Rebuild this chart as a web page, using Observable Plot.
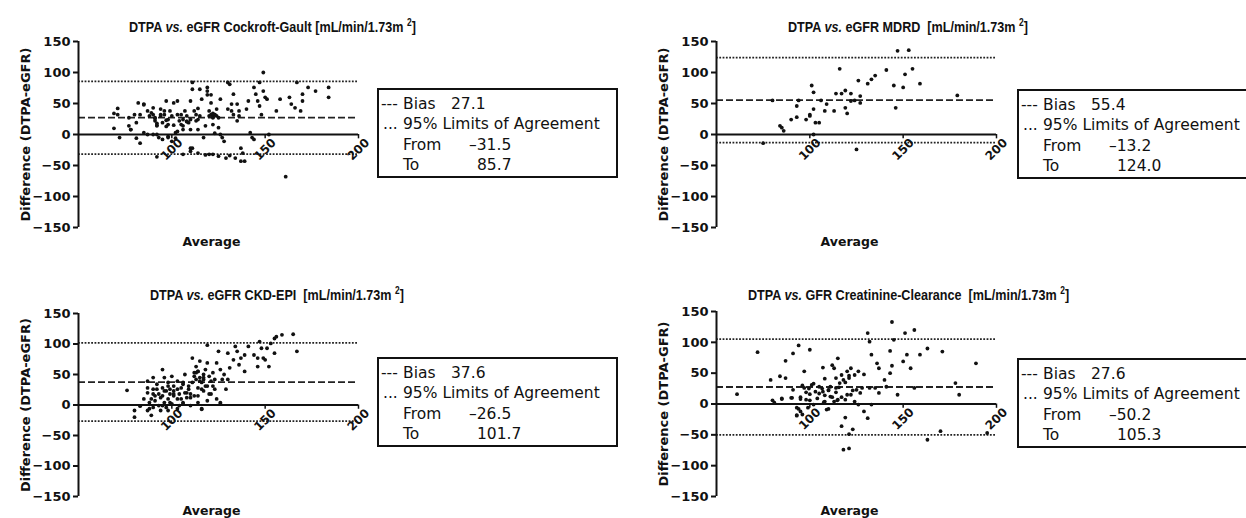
<!DOCTYPE html>
<html><head><meta charset="utf-8">
<script src="https://cdn.jsdelivr.net/npm/d3@7"></script>
<script src="https://cdn.jsdelivr.net/npm/@observablehq/plot@0.6"></script>
<style>
html,body{margin:0;padding:0;background:#fff;overflow:hidden;width:1246px;height:518px}
#wrap{position:relative;width:1246px;height:518px;font-family:"Liberation Sans",Arial,sans-serif;color:#111;overflow:hidden}
.panel{position:absolute}
.title{position:absolute;font-weight:bold;font-size:15px;white-space:pre;line-height:18px;transform:scaleX(0.84);transform-origin:0 50%}
.title sup{font-size:10px;line-height:0}
.legend{position:absolute;border:2px solid #111;width:241px;height:90px;font-family:"DejaVu Sans",sans-serif;font-size:15.5px;box-sizing:border-box}
.legend .row{position:absolute;white-space:pre;line-height:20px}
</style></head>
<body><div id="wrap"></div>
<script>
// ---------- data ----------
const titleMethods = ["eGFR Cockroft-Gault", "eGFR MDRD", "eGFR CKD-EPI", "GFR Creatinine-Clearance"];
const yLabels = ["Difference (DTPA-eGFR)", "Difference (DTPA-eGFR)", "Difference (DTPA-eGFR)", "Difference (DTPA-GFR)"];
const bias = [27.1, 55.4, 37.6, 27.6];
const loaFrom = [-31.5, -13.2, -26.5, -50.2];
const loaTo = [85.7, 124.0, 101.7, 105.3];
const yTicks = [-150, -100, -50, 0, 50, 100, 150];
const xTicks = [100, 150, 200];

// Cockroft-Gault
const cgAvg = [69,69,72,77,77,78,81,81,82,83,85,85,87,88,89,90,90,91,91,92,92,92,93,94,94,95,96,96,97,97,98,98,98,99,100,101,101,102,102,104,105,106,106,107,108,108,109,110,110,110,111,111,112,113,114,114,115,115,116,117,118,119,119,120,120,121,121,122,122,122,123,124,124,125,125,126,126,127,128,129,130,130,131,132,132,133,133,134,135,135,136,136,137,137,138,139,140,141,142,143,144,144,145,146,147,147,148,149,149,150,151,152,156,158,161,163,164,166,167,169,170,170,173,177,184,184,103,106,114,118,125,131,
  92,92,91,94,97,98,103,105,106,108,110,113,114,119,121,122,123,122,123,87,90,95,100,103,110,111,120,83,85,71,71,78,80];
const cgDiff = [34,10,-5,27,14,8,19,-6,51,32,49,3,38,30,35,43,32,22,27,15,14,0,-5,41,30,19,32,38,54,23,-3,-5,16,38,30,51,15,3,-6,22,32,14,8,38,30,21,19,-22,-27,54,73,84,38,22,8,24,30,73,57,-5,14,76,70,38,30,51,32,16,-32,27,32,30,41,27,11,0,57,-5,-11,-38,41,84,81,49,38,32,65,-38,22,49,38,30,-22,-43,-30,-43,41,54,3,-5,-8,76,65,54,84,46,32,70,100,60,57,0,38,57,-68,60,49,43,84,38,65,54,76,70,76,60,54,-32,-30,-33,-35,-34,-36,
  18,26,32,13,24,32,16,24,21,24,32,42,64,64,29,32,34,2,0,0,-8,-11,5,8,-22,-32,-14,48,42,32,8,32,10];

// MDRD
const mdAvg = [75,80,84,85,86,90,93,93,94,98,100,100,101,102,102,103,102,105,106,108,109,113,114,116,117,119,119,120,122,122,124,125,126,127,127,131,133,135,141,145,146,147,150,151,153,155,159,179];
const mdDiff = [-14,55,14,11,6,24,28,46,55,24,30,32,79,68,41,19,0,19,55,38,49,38,66,106,66,43,71,34,66,54,55,-24,87,62,51,82,89,95,104,79,43,135,76,97,136,106,82,63];

// CKD-EPI
const ckAvg = [76,80,80,83,85,87,87,87,88,88,89,90,90,91,91,92,93,93,94,95,95,95,96,96,97,97,98,98,99,99,100,100,101,101,101,103,103,104,104,105,106,106,107,107,108,109,109,110,111,111,112,112,113,113,114,114,114,115,115,116,116,117,117,117,118,118,119,119,120,120,121,122,122,123,124,125,126,126,127,128,129,130,130,131,133,134,135,136,137,139,139,141,144,146,146,147,148,149,150,151,152,153,155,155,156,159,165,167,
  89,90,92,94,96,98,99,101,103,105,106,108,110,112,113,114,115,116,117,119,121,123,124,87,90,95,98,103,106,110,114,116,119,126];
const ckDiff = [24,-9,-20,-2,10,28,39,20,4,-6,-17,45,26,15,7,34,18,-1,-9,58,15,28,4,45,23,-4,37,10,18,26,2,47,15,31,23,10,39,18,-1,28,37,4,20,50,12,31,26,18,37,77,53,15,42,63,28,55,15,45,72,37,-6,50,23,42,58,31,69,98,47,18,39,53,31,26,69,88,2,58,42,50,26,85,42,61,74,96,88,66,77,82,55,96,82,77,63,104,93,77,74,93,63,101,109,85,112,115,116,88,
  10,18,26,12,23,31,4,18,26,10,34,20,12,47,53,55,39,26,45,31,18,42,10,-9,-4,-1,-9,-6,2,-1,4,-7,7,4];

// Creatinine-Clearance
const crAvg = [61,72,79,81,84,85,87,87,90,91,91,93,93,94,95,95,96,97,97,98,99,100,100,101,102,103,104,105,107,107,108,108,109,110,111,111,112,113,113,114,114,115,115,116,117,117,118,118,119,119,120,120,121,121,121,122,122,123,124,124,125,126,126,127,128,129,129,131,131,132,132,133,133,135,136,137,137,140,141,143,143,144,144,145,147,150,151,152,154,156,156,159,163,163,170,171,178,180,189,195,
  96,98,99.5,102,105,106.6,108,110,112,114,115.6,117,119,121,123,95,100,107.5,114.7,110,94,93,80,85,90.5];
const crDiff = [16,84,39,2,45,9,42,70,10,82,23,-6,-18,95,11,-12,-17,26,53,7,-6,88,16,31,-1,20,9,28,59,20,41,4,-9,23,12,28,63,58,4,26,42,74,7,34,47,-36,39,-74,-22,7,15,53,-49,42,-72,58,15,-41,4,47,23,53,-1,18,26,48,-12,-23,115,26,101,80,-1,26,66,58,18,39,28,86,50,62,133,104,15,69,115,80,58,120,26,80,90,-58,-44,85,34,15,66,-47,
  30,19,25,33,17,25,14,22,11,19,27,11,35,46,22,8,6,3,6,-8,-8,-19,6,8,10];

const avgs = [cgAvg, mdAvg, ckAvg, crAvg];
const diffs = [cgDiff, mdDiff, ckDiff, crDiff];

// ---------- layout ----------
const AXFONT = "'DejaVu Sans', sans-serif";
const wrap = document.getElementById("wrap");
const panelPos = [
  {left: 0, top: 0, h: 255, mt: 41, mb: 28},
  {left: 638, top: 0, h: 255, mt: 41, mb: 28},
  {left: 0, top: 270, h: 248, mt: 43, mb: 22},
  {left: 638, top: 270, h: 248, mt: 41, mb: 22}
];
const titlePos = [{left: 129, top: 18}, {left: 788, top: 18}, {left: 150, top: 286}, {left: 748, top: 286}];
const legendPos = [{left: 377, top: 88}, {left: 1017, top: 89}, {left: 377, top: 357}, {left: 1017, top: 358}];

function fmt(v) { return (v < 0 ? "\u2013" + Math.abs(v).toFixed(1) : v.toFixed(1)); }

for (let i = 0; i < 4; i++) {
  const p = panelPos[i];
  const pts = avgs[i].map((a, j) => ({a, d: diffs[i][j]}));
  const chart = Plot.plot({
    width: 380, height: p.h,
    marginLeft: 78, marginRight: 22, marginTop: p.mt, marginBottom: p.mb,
    style: {fontFamily: AXFONT, fontSize: "13px", fontWeight: "bold", color: "#111", background: "transparent", overflow: "visible"},
    x: {domain: [50, 200], axis: null},
    y: {domain: [-150, 150]},
    marks: [
      Plot.ruleY([loaFrom[i], loaTo[i]], {stroke: "#222", strokeWidth: 1.8, strokeDasharray: "1.8,1.5"}),
      Plot.ruleY([bias[i]], {stroke: "#222", strokeWidth: 1.8, strokeDasharray: "7,3"}),
      Plot.ruleY([0], {stroke: "#111", strokeWidth: 2}),
      Plot.ruleX([50], {y1: -150, y2: 150, stroke: "#111", strokeWidth: 2}),
      Plot.axisY(yTicks, {tickSize: 5, tickPadding: 3, strokeWidth: 2, label: null, fontSize: 13, fontWeight: "bold"}),
      Plot.ruleX(xTicks, {y1: 0, y2: -7, stroke: "#111", strokeWidth: 1.5}),
      Plot.text(xTicks, {x: d => d, y: 0, text: d => String(d), rotate: -45, dy: 15, textAnchor: "middle", fontSize: 12, fontWeight: "bold"}),
      Plot.dot(pts, {x: "a", y: "d", r: 1.9, fill: "#111", stroke: null}),
      Plot.text([yLabels[i]], {frameAnchor: "left", rotate: -90, dx: -53, textAnchor: "middle", lineAnchor: "middle", fontSize: 13, fontWeight: "bold"}),
      Plot.text(["Average"], {frameAnchor: "bottom", dy: 14, dx: -7, textAnchor: "middle", lineAnchor: "middle", fontSize: 12.5, fontWeight: "bold"})
    ]
  });
  chart.classList.add("panel");
  chart.style.left = p.left + "px";
  chart.style.top = p.top + "px";
  wrap.appendChild(chart);

  const t = document.createElement("div");
  t.className = "title";
  t.style.left = titlePos[i].left + "px";
  t.style.top = titlePos[i].top + "px";
  const gap = i === 0 ? " " : "  ";
  t.innerHTML = "DTPA <i>vs.</i> " + titleMethods[i] + gap + "[mL/min/1.73m <sup>2</sup>]";
  wrap.appendChild(t);

  const lg = document.createElement("div");
  lg.className = "legend";
  lg.style.left = legendPos[i].left + "px";
  lg.style.top = legendPos[i].top + "px";
  const rows = [
    {x: 2, y: 4, s: "---"}, {x: 24, y: 4, s: "Bias"}, {x: 72, y: 4, s: fmt(bias[i])},
    {x: 4, y: 24, s: "..."}, {x: 24, y: 24, s: "95% Limits of Agreement"},
    {x: 24, y: 45, s: "From"}, {x: 90, y: 45, s: fmt(loaFrom[i])},
    {x: 24, y: 65, s: "To"}, {x: 98, y: 65, s: fmt(loaTo[i])}
  ];
  for (const r of rows) {
    const d = document.createElement("div");
    d.className = "row";
    d.style.left = r.x + "px";
    d.style.top = r.y + "px";
    d.textContent = r.s;
    lg.appendChild(d);
  }
  wrap.appendChild(lg);
}
</script></body></html>
